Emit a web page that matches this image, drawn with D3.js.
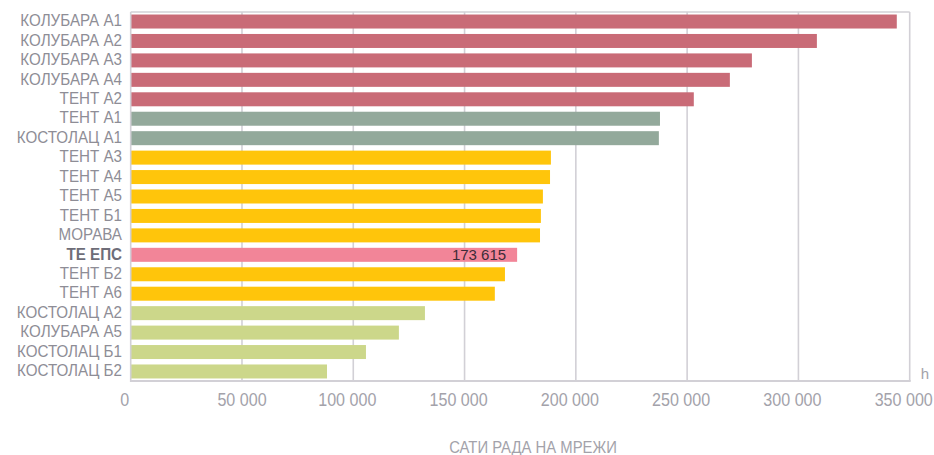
<!DOCTYPE html>
<html><head><meta charset="utf-8">
<script src="https://cdn.jsdelivr.net/npm/d3@7"></script>
<style>body{margin:0;background:#fff}svg{display:block}text{font-family:"Liberation Sans",Arial,sans-serif}</style>
</head><body><svg id="c" width="934" height="455"></svg>
<script>
const categories = ["КОЛУБАРА А1","КОЛУБАРА А2","КОЛУБАРА А3","КОЛУБАРА А4","ТЕНТ А2","ТЕНТ А1","КОСТОЛАЦ А1","ТЕНТ А3","ТЕНТ А4","ТЕНТ А5","ТЕНТ Б1","МОРАВА","ТЕ ЕПС","ТЕНТ Б2","ТЕНТ А6","КОСТОЛАЦ А2","КОЛУБАРА А5","КОСТОЛАЦ Б1","КОСТОЛАЦ Б2"];
const values = [344200,308300,279100,269200,253000,237800,237300,188800,188400,185200,184300,183900,173615,168150,163600,132200,120500,105700,88200];
const groups = ["a","a","a","a","a","b","b","c","c","c","c","c","eps","c","c","d","d","d","d"];
const groupColors = {a:"#C96B77", b:"#93A99B", c:"#FFC50B", eps:"#F28598", d:"#CCD78A"};
const ticks = [0,50000,100000,150000,200000,250000,300000,350000];
const highlight = "ТЕ ЕПС";
const valueLabel = "173 615";
const unitLabel = "h";
const axisTitle = "САТИ РАДА НА МРЕЖИ";

const svg = d3.select("#c");
const m = {l:130.7, r:909.7, t:12, b:381};
const x = d3.scaleLinear().domain([0,350000]).range([m.l,m.r]);
const y = d3.scaleBand().domain(categories).range([m.t,m.b]).paddingInner(0.28).paddingOuter(0.13);
const lineCol = "#D2D0D6";

// gridlines
svg.append("g").selectAll("line").data(ticks.slice(1)).join("line")
  .attr("x1",d=>x(d)).attr("x2",d=>x(d)).attr("y1",m.t).attr("y2",m.b)
  .attr("stroke",lineCol).attr("stroke-width",1.6);
// frame top
svg.append("line").attr("x1",m.l).attr("x2",m.r).attr("y1",m.t).attr("y2",m.t).attr("stroke",lineCol).attr("stroke-width",1.6);

// bars
svg.append("g").selectAll("rect").data(categories).join("rect")
  .attr("x",x(0)).attr("y",d=>y(d))
  .attr("width",(d,i)=>x(values[i])-x(0)).attr("height",y.bandwidth())
  .attr("fill",(d,i)=>groupColors[groups[i]]);

// axes lines
svg.append("line").attr("x1",m.l).attr("x2",m.l).attr("y1",m.t).attr("y2",m.b+1).attr("stroke",lineCol).attr("stroke-width",1.6);
svg.append("line").attr("x1",m.l).attr("x2",m.r+1).attr("y1",m.b).attr("y2",m.b).attr("stroke",lineCol).attr("stroke-width",1.8);

// category labels (slightly condensed)
svg.append("g").selectAll("text").data(categories).join("text")
  .attr("transform",d=>`translate(122,${y(d)+y.bandwidth()/2-1}) scale(0.92,1)`)
  .attr("dominant-baseline","central").attr("text-anchor","end")
  .attr("font-size",16.5)
  .attr("font-weight",d=>d===highlight?"bold":"normal")
  .attr("fill",d=>d===highlight?"#6E6D78":"#8E8D96")
  .text(d=>d);

// value label
const hi = categories.indexOf(highlight);
svg.append("text").attr("x",x(values[hi])-11).attr("y",y(highlight)+y.bandwidth()/2)
  .attr("dominant-baseline","central").attr("text-anchor","end")
  .attr("font-size",15).attr("fill","#3E2C38").text(valueLabel);

// tick labels
const fmt = d=>d3.format(",")(d).replace(/,/g," ");
svg.append("g").selectAll("text").data(ticks).join("text")
  .attr("transform",(d,i)=>`translate(${x(d)-(i===1?0:6)},400) scale(0.92,1)`)
  .attr("dominant-baseline","central").attr("text-anchor","middle")
  .attr("font-size",17.5).attr("fill","#A3A2AA")
  .text(fmt);

svg.append("text").attr("x",925).attr("y",373).attr("dominant-baseline","central").attr("text-anchor","middle")
  .attr("font-size",15).attr("fill","#A3A2AA").text(unitLabel);

svg.append("text").attr("transform","translate(533,447) scale(0.9,1)").attr("dominant-baseline","central").attr("text-anchor","middle")
  .attr("font-size",16.5).attr("fill","#A3A2AA").text(axisTitle);
</script></body></html>
